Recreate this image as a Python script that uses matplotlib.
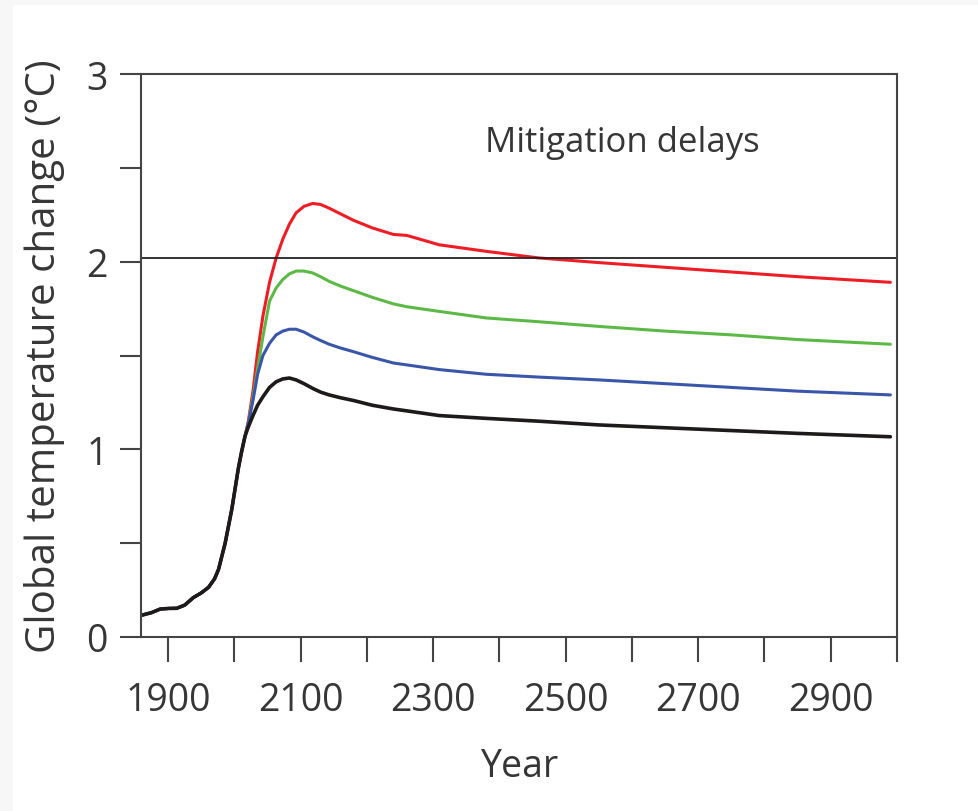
import matplotlib
matplotlib.use("Agg")
from matplotlib import pyplot as plt
from matplotlib.patches import Rectangle
import numpy as np

# shared historical warming (deg C)
yearsHist = [1859, 1875, 1888, 1900, 1913, 1925, 1938, 1950, 1961, 1970, 1976,
             1981, 1986, 1991, 1996, 2001, 2006, 2011, 2016]
tempHist = [0.115, 0.13, 0.149, 0.152, 0.153, 0.17, 0.21, 0.235, 0.265, 0.31, 0.36,
            0.43, 0.50, 0.59, 0.68, 0.79, 0.90, 0.99, 1.07]

# the four delay scenarios after the split
yearsFut = [2021, 2028, 2035, 2043, 2053, 2063, 2073, 2083, 2093, 2105, 2118, 2130, 2143,
            2160, 2180, 2208, 2240, 2260, 2309, 2380, 2459, 2550, 2650, 2750, 2850, 2990]
tempRed = [1.15, 1.31, 1.52, 1.71, 1.89, 2.02, 2.12, 2.20, 2.26, 2.295, 2.31, 2.305, 2.285,
           2.255, 2.22, 2.18, 2.145, 2.14, 2.09, 2.055, 2.02, 1.995, 1.97, 1.945, 1.92, 1.89]
tempGreen = [1.14, 1.28, 1.43, 1.60, 1.79, 1.86, 1.905, 1.935, 1.95, 1.95, 1.94, 1.92, 1.895,
             1.87, 1.845, 1.81, 1.775, 1.76, 1.735, 1.70, 1.68, 1.655, 1.63, 1.61, 1.585, 1.56]
tempBlue = [1.14, 1.26, 1.40, 1.50, 1.565, 1.61, 1.63, 1.64, 1.64, 1.625, 1.60, 1.58, 1.56,
            1.54, 1.52, 1.49, 1.46, 1.45, 1.425, 1.40, 1.385, 1.37, 1.35, 1.33, 1.31, 1.29]
tempBlack = [1.12, 1.18, 1.235, 1.28, 1.33, 1.36, 1.375, 1.38, 1.37, 1.35, 1.325, 1.305, 1.29,
             1.275, 1.26, 1.235, 1.215, 1.205, 1.18, 1.165, 1.15, 1.13, 1.115, 1.10, 1.085, 1.067]
threshold = 2.02

plt.rcParams['font.family'] = ['Open Sans', 'DejaVu Sans']
textCol = '#363636'
spineCol = '#444444'

fig = plt.figure(figsize=(9.79, 8.12), dpi=100, facecolor='#f7f7f7')
card = Rectangle((13/979, 0), 1, (812-6)/812, transform=fig.transFigure,
                 facecolor='white', edgecolor='none', zorder=-10)
fig.add_artist(card)
ax = fig.add_axes([141/979, (812-638)/812, (897-141)/979, (638-75)/812])
ax.set_zorder(5)

colors = {'red': '#ee1c25', 'green': '#5cb946', 'blue': '#3a56a8', 'black': '#1e1a1a'}
series = [(tempRed, 'red', 2.2), (tempGreen, 'green', 2.2), (tempBlue, 'blue', 2.2),
          (tempBlack, 'black', 2.6)]
for temp, c, w in series:
    ax.plot(yearsHist + yearsFut, tempHist + temp, color=colors[c], lw=w,
            solid_capstyle='round', solid_joinstyle='round')

ax.axhline(threshold, color='#222222', lw=1.3)

ax.set_xlim(1859, 3000)
ax.set_ylim(0, 3)
ax.set_xticks(range(1900, 3000, 200))
ax.set_xticks(range(2000, 3001, 200), minor=True)
ax.set_yticks([0, 1, 2, 3])
ax.set_yticks([0.5, 1.5, 2.5], minor=True)

for s in ax.spines.values():
    s.set_color(spineCol)
    s.set_linewidth(1.5)

ax.tick_params(which='both', direction='out', color=spineCol, width=1.5)
ax.tick_params(axis='x', which='both', length=18, pad=14, labelsize=27, labelcolor=textCol)
ax.tick_params(axis='y', which='both', length=15, pad=9, labelsize=27, labelcolor=textCol)

ax.set_xlabel('Year', fontsize=27, color=textCol, labelpad=20)
ax.set_ylabel('Global temperature change (\u00b0C)', fontsize=29, color=textCol, labelpad=15)
ax.text(0.636, 0.88, 'Mitigation delays', transform=ax.transAxes, ha='center', va='center',
        fontsize=25, color=textCol)

fig.savefig('out.png', dpi=100, facecolor=fig.get_facecolor())
